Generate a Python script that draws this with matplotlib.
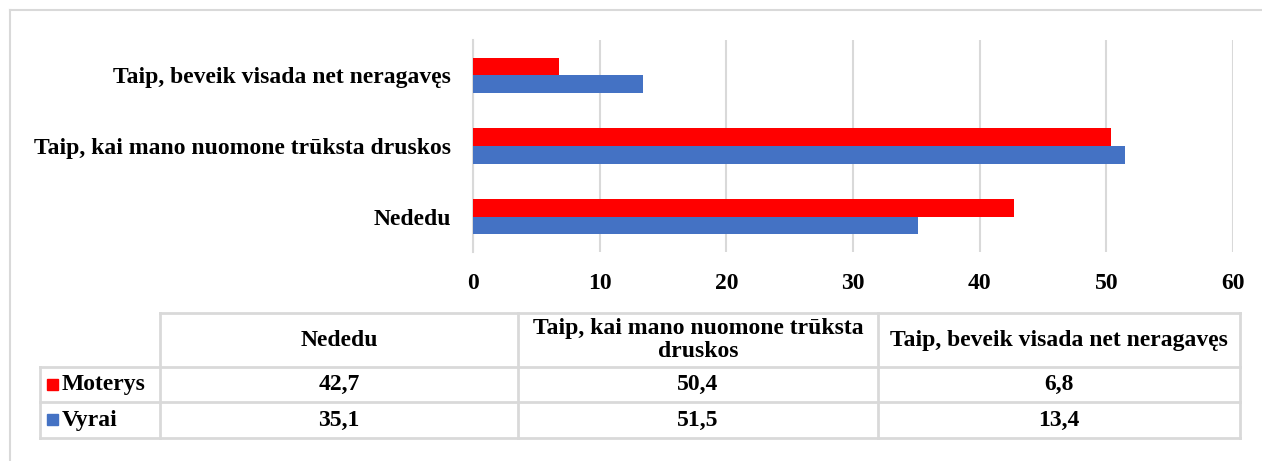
import matplotlib.pyplot as plt
import numpy as np
from matplotlib.patches import Rectangle

# duomenys
kategorijos = ['Nededu', 'Taip, kai mano nuomone trūksta druskos', 'Taip, beveik visada net neragavęs']
moterys = [42.7, 50.4, 6.8]
vyrai = [35.1, 51.5, 13.4]
serijos = ['Moterys', 'Vyrai']
spalvos = ['#FF0000', '#4472C4']
lenteles_antrastes = ['Nededu', 'Taip, kai mano nuomone trūksta\ndruskos', 'Taip, beveik visada net neragavęs']
lenteles_reiksmes = [['42,7', '50,4', '6,8'], ['35,1', '51,5', '13,4']]

plt.rcParams['font.family'] = ['Liberation Serif', 'DejaVu Serif']
plt.rcParams['font.weight'] = 'bold'
FS = 17
GRID = '#d9d9d9'

W, H = 1262, 461
fig = plt.figure(figsize=(W / 100, H / 100), dpi=100)

def fx(px):
    return px / W

def fy(py):
    return 1 - py / H

# remelis aplink diagrama
fig.add_artist(plt.Line2D([fx(10), 1], [fy(10), fy(10)], color=GRID, lw=1.5))
fig.add_artist(plt.Line2D([fx(10), fx(10)], [fy(10), 0], color=GRID, lw=1.5))

# stulpeline diagrama
ax = fig.add_axes([fx(473), fy(252), fx(1233) - fx(473), fy(40) - fy(252)])
y = np.arange(len(kategorijos))
h = 0.25
ax.barh(y + h / 2, moterys, height=h, color=spalvos[0], zorder=3)
ax.barh(y - h / 2, vyrai, height=h, color=spalvos[1], zorder=3)
ax.set_xlim(0, 60)
ax.set_ylim(-0.5, 2.5)
ax.set_xticks(range(0, 61, 10))
ax.set_yticks(y)
ax.set_yticklabels(kategorijos, fontsize=FS, fontweight='bold')
ax.tick_params(axis='x', labelsize=FS, length=0, pad=15)
ax.tick_params(axis='y', length=0, pad=16)
ax.grid(axis='x', color=GRID, lw=1.5, zorder=0)
for s in ['top', 'right', 'bottom']:
    ax.spines[s].set_visible(False)
ax.spines['left'].set_color(GRID)
ax.spines['left'].set_linewidth(1.5)

# duomenu lentele
xs = [40, 160, 518, 878, 1240]
ys = [313, 367, 402, 438]
tab = fig.add_axes([0, 0, 1, 1])
tab.set_xlim(0, W)
tab.set_ylim(H, 0)
tab.axis('off')

# horizontalios linijos
tab.plot([xs[1], xs[-1]], [ys[0], ys[0]], color=GRID, lw=2)
for yy in ys[1:]:
    tab.plot([xs[0], xs[-1]], [yy, yy], color=GRID, lw=2)
# vertikalios linijos
tab.plot([xs[0], xs[0]], [ys[1], ys[-1]], color=GRID, lw=2)
for xx in xs[1:]:
    tab.plot([xx, xx], [ys[0], ys[-1]], color=GRID, lw=2)

for j, txt in enumerate(lenteles_antrastes):
    tab.text((xs[j + 1] + xs[j + 2]) / 2, (ys[0] + ys[1]) / 2, txt, ha='center', va='center',
             fontsize=FS, fontweight='bold', linespacing=1.1)

for i, eil in enumerate(lenteles_reiksmes):
    yc = (ys[i + 1] + ys[i + 2]) / 2
    tab.add_patch(Rectangle((47, yc - 6), 11, 11, color=spalvos[i]))
    tab.text(62, yc, serijos[i], ha='left', va='center', fontsize=FS, fontweight='bold')
    for j, v in enumerate(eil):
        tab.text((xs[j + 1] + xs[j + 2]) / 2, yc, v, ha='center', va='center',
                 fontsize=FS, fontweight='bold')

fig.savefig('out.png', dpi=100)
